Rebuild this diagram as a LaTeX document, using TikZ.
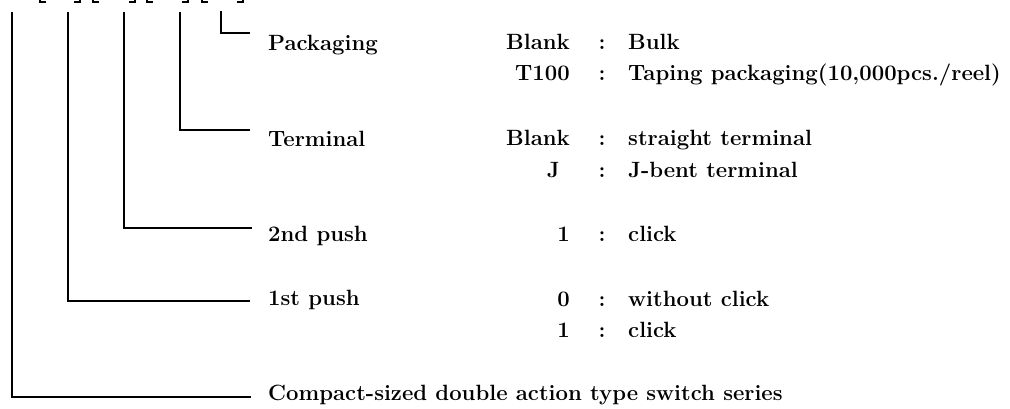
\documentclass[tikz,border=0pt]{standalone}
\begin{document}
\begin{tikzpicture}[x=1pt,y=-1pt,
  conn/.style={line width=1.3pt},
  brk/.style={line width=1.6pt},
  txt/.style={font=\fontsize{22.1}{26}\selectfont\bfseries, inner sep=0pt, anchor=base west},
  code/.style={txt, anchor=base east},
  colon/.style={txt, anchor=base}]
\useasboundingbox (0,0) rectangle (1010,408);
\clip (0,0) rectangle (1010,408);
% partially visible brackets at the top
\foreach \l/\r in {40/80, 93/135, 147/188, 202/243}{
  \draw[brk] (\l,-8) -- (\l,2) -- (\l+6,2);
  \draw[brk] (\r-6,2) -- (\r,2) -- (\r,-8);
}
% labels
\node[txt] (lpack) at (268,50) {Packaging};
\node[txt] (lterm) at (268,146) {Terminal};
\node[txt] (lsec) at (268,241) {2nd push};
\node[txt] (lfirst) at (268,305) {1st push};
\node[txt] (lser) at (268,400) {Compact-sized double action type switch series};
% codes
\node[code] (c1) at (570,49) {Blank};
\node[code] (c2) at (570,80) {T100};
\node[code] (c3) at (570,145) {Blank};
\node[code] (c4) at (560,177) {J};
\node[code] (c5) at (570,241) {1};
\node[code] (c6) at (570,306) {0};
\node[code] (c7) at (570,337) {1};
% colons
\foreach \i/\y in {1/49, 2/80, 3/145, 4/177, 5/241, 6/306, 7/337}{
  \node[colon] (k\i) at (602,\y) {:};
}
% values
\node[txt] (v1) at (628,49) {Bulk};
\node[txt] (v2) at (628,80) {Taping packaging(10,000pcs./reel)};
\node[txt] (v3) at (628,145) {straight terminal};
\node[txt] (v4) at (628,177) {J-bent terminal};
\node[txt] (v5) at (628,241) {click};
\node[txt] (v6) at (628,306) {without click};
\node[txt] (v7) at (628,337) {click};
% connectors
\coordinate (t1) at (12,12);  \coordinate (e1) at (251,397);
\coordinate (t2) at (68,12);  \coordinate (e2) at (250,301);
\coordinate (t3) at (124,12); \coordinate (e3) at (252,228);
\coordinate (t4) at (180,12); \coordinate (e4) at (250,130);
\coordinate (t5) at (221,11); \coordinate (e5) at (250,33);
\foreach \i in {1,...,5}{
  \draw[conn] (t\i) |- (e\i);
}
\end{tikzpicture}
\end{document}
